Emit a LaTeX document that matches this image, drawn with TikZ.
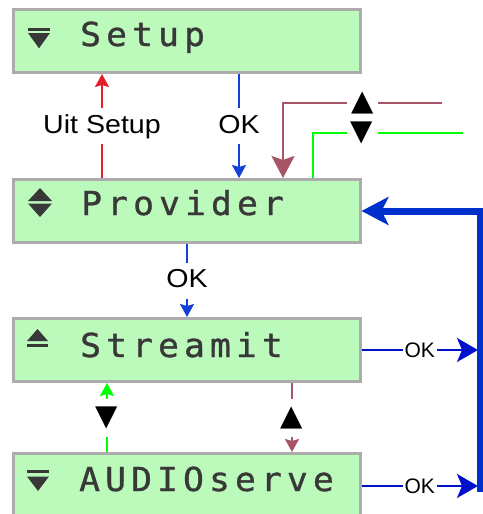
\documentclass[tikz,border=0pt]{standalone}
\usepackage{fontspec}
\usetikzlibrary{arrows.meta}
\newfontfamily\lcdfont[LetterSpace=15.5,FakeStretch=1.05,FakeBold=1]{DejaVu Sans Mono}
\newfontfamily\labfont[FakeStretch=1.1]{Liberation Sans}
\newfontfamily\labsmall{Liberation Sans}
\newfontfamily\symfont{DejaVu Sans}
\definecolor{lcdfill}{RGB}{188,250,188}
\definecolor{lcdline}{RGB}{172,172,172}
\definecolor{lcdtext}{RGB}{56,56,56}
\definecolor{exitred}{RGB}{228,30,40}
\definecolor{okblue}{RGB}{20,64,216}
\definecolor{deepblue}{RGB}{0,16,204}
\definecolor{bigblue}{RGB}{0,48,204}
\definecolor{upcol}{RGB}{166,85,102}
\definecolor{downcol}{RGB}{0,255,0}
\begin{document}
\begin{tikzpicture}[x=1pt,y=-1pt,
  box/.style={draw=lcdline,fill=lcdfill,line width=3pt,minimum width=346.5pt,
    minimum height=63pt,inner sep=0pt,anchor=north west},
  lcd/.style={font=\lcdfont\fontsize{33}{40}\selectfont,text=lcdtext,inner sep=0pt,anchor=base west},
  icon/.style={fill=lcdtext,draw=none},
  smallhead/.style={-{Stealth[length=13pt,width=14pt,inset=2pt]}},
  lab/.style={font=\labfont\fontsize{26}{30}\selectfont,fill=white,inner xsep=2pt,
    inner ysep=0pt,minimum height=36pt,text height=19pt,text depth=5pt},
  okr/.style={font=\labsmall\fontsize{21}{24}\selectfont,fill=white,text=black,inner xsep=2pt,inner ysep=1pt},
  tri/.style={font=\symfont\fontsize{29}{32}\selectfont,fill=white,text=black,inner sep=0pt,
    minimum width=31pt,minimum height=38pt},
  thinln/.style={line width=2pt}]
\useasboundingbox (0,0) rectangle (482,514);
% LCD boxes
\node[box] (setup) at (12,8) {};
\node[box] (prov) at (12,178) {};
\node[box] (stream) at (12,317) {};
\node[box] (aud) at (12,452) {};
% texts
\node[lcd] (setupt) at (80,46) {Setup};
\node[lcd] (provt) at (81,215) {Provider};
\node[lcd] (streamt) at (80,357) {Streamit};
\node[lcd] (audt) at (79,491) {AUDIOserve};
% icons
\fill[icon] (28,27.7) rectangle (50,30.7);
\fill[icon] (28,33) -- (50,33) -- (39,48.3) -- cycle;
\fill[icon] (28,201) -- (52,201) -- (40,188) -- cycle;
\fill[icon] (28,203.5) -- (52,203.5) -- (40,217) -- cycle;
\fill[icon] (27,341) -- (48,341) -- (37.5,329) -- cycle;
\fill[icon] (27,343.8) rectangle (48,347);
\fill[icon] (27,470) rectangle (49,473);
\fill[icon] (27,476.5) -- (49,476.5) -- (38,491) -- cycle;
% helper x positions
\coordinate (xr) at (102,0);
\coordinate (xb) at (239,0);
\coordinate (xm) at (283,0);
\coordinate (xg) at (313,0);
\coordinate (xp) at (187,0);
\coordinate (xg2) at (107,0);
\coordinate (xm2) at (292,0);
\coordinate (xv) at (478,0);
\coordinate (mstart) at (442,103);
\coordinate (gstart) at (463,133);
\coordinate (bot) at (480,492);
\coordinate (bend) at (480,211);
% Setup <-> Provider
\draw[thinln,exitred,smallhead] (prov.north -| xr) -- node[lab,text=black]{Uit Setup} (setup.south -| xr);
\draw[thinln,okblue,smallhead] (setup.south -| xb) -- node[lab,text=black]{OK} (prov.north -| xb);
% up / down into Provider
\draw[line width=2.5pt,upcol,-{Stealth[length=22pt,width=23pt,inset=4pt]}]
  (mstart) -- node[tri]{▲} (mstart -| xm) -- (prov.north -| xm);
\draw[line width=2pt,downcol]
  (gstart) -- node[tri,pos=0.673]{▼} (gstart -| xg) -- (prov.north -| xg);
% Provider -> Streamit
\draw[thinln,okblue,smallhead] (prov.south -| xp) -- node[lab,text=black]{OK} (stream.north -| xp);
% Streamit <-> AUDIOserve
\draw[thinln,downcol,smallhead] (aud.north -| xg2) -- node[tri]{▼} (stream.south -| xg2);
\draw[thinln,upcol,smallhead] (stream.south -| xm2) -- node[tri]{▲} (aud.north -| xm2);
% OK to the right
\draw[thinln,deepblue,-{Stealth[length=21pt,width=24pt,inset=5pt]}]
  (stream.east) -- node[okr]{OK} (stream.east -| xv);
\draw[thinln,deepblue,-{Stealth[length=21pt,width=24pt,inset=5pt]}]
  ([yshift=-1pt]aud.east) -- node[okr]{OK} ([yshift=-1pt]aud.east -| xv);
% return line
\draw[line width=7pt,bigblue,-{Stealth[length=27pt,width=28pt,inset=7pt]}]
  (bot) -- (bend) -- (prov.east);
\end{tikzpicture}
\end{document}
